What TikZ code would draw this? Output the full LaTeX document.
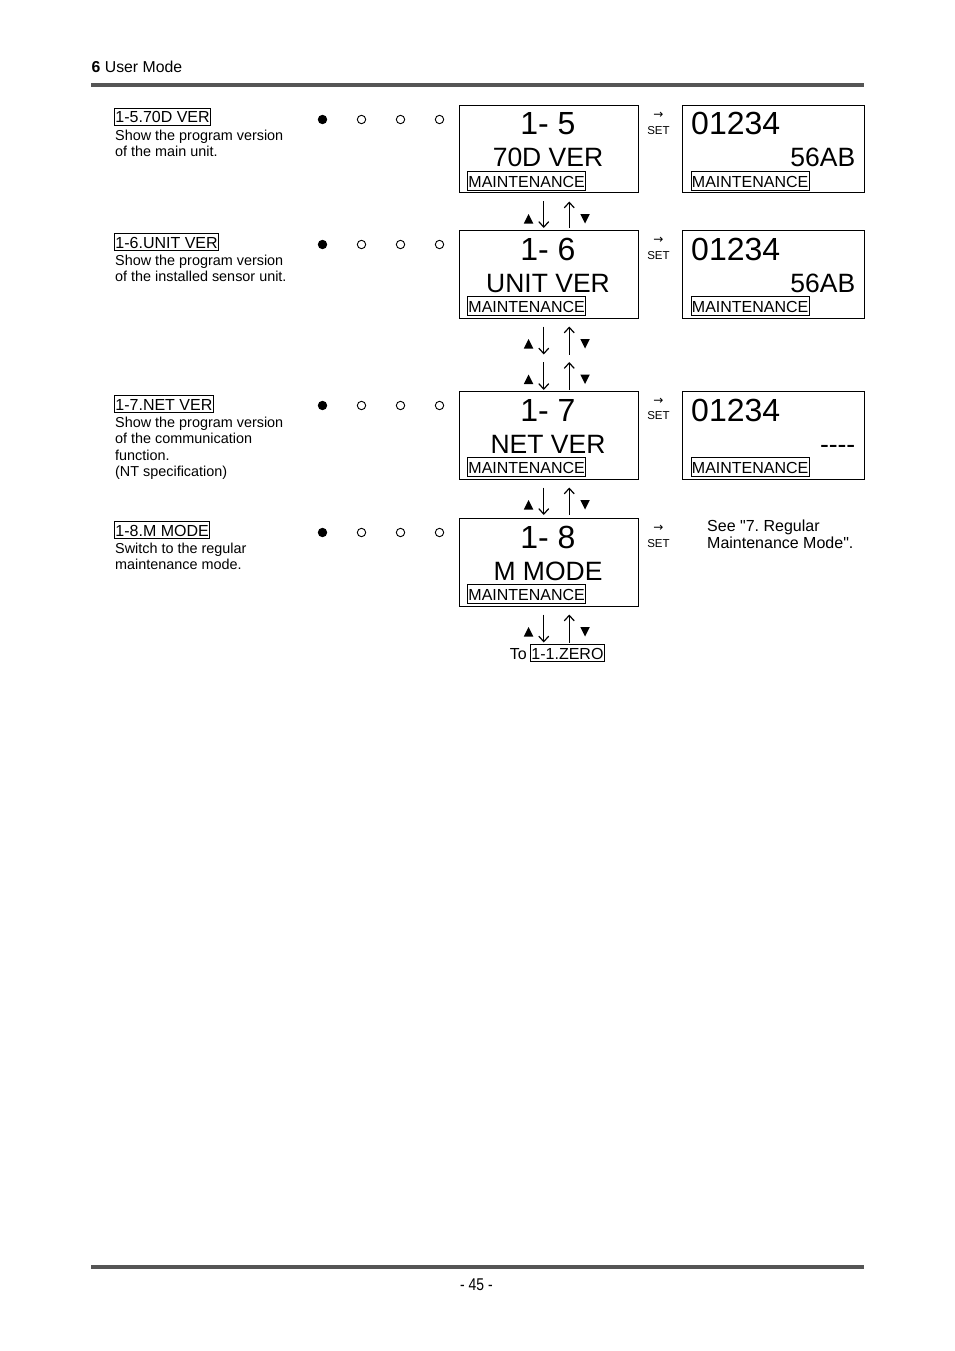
\documentclass[tikz,border=0pt]{standalone}
\usepackage{fontspec}
\setmainfont{Liberation Sans}[Ligatures=TeXOff]
\newfontfamily\symfont{DejaVu Sans}
\newfontfamily\narrowfont[FakeStretch=0.82]{Liberation Sans}
\usetikzlibrary{arrows.meta,calc}
\definecolor{rulegray}{HTML}{555555}
\frenchspacing
\tikzset{
  screen/.style={draw, line width=1pt, inner sep=0pt, anchor=north west, minimum height=87.5pt},
  lbl/.style={draw, line width=0.9pt, font=\fontsize{16}{16}\selectfont, inner xsep=1pt, inner ysep=0pt, text height=14.5pt, text depth=2.5pt, anchor=base west},
  maint/.style={lbl, text height=15.5pt, text depth=3.5pt},
  desc/.style={font=\fontsize{14.4}{16.6}\selectfont, align=left, inner sep=0pt, anchor=north west},
  bignum/.style={font=\fontsize{32}{32}\selectfont, inner sep=0pt, anchor=base},
  subword/.style={font=\fontsize{26.5}{26.5}\selectfont, inner sep=0pt, anchor=base},
  setl/.style={font=\fontsize{11.5}{11.5}\selectfont, inner sep=0pt, anchor=base},
  arr/.style={font=\symfont\fontsize{12}{12}\selectfont, inner sep=0pt},
  flow/.style={line width=1.2pt, -{Straight Barb[length=5.5pt,width=10pt]}},
  plain/.style={font=\fontsize{16}{16.6}\selectfont, inner sep=0pt}
}
\newcommand\arrpair[2]{%
  \draw[flow] ($(#1)+(-5,0)$) -- ($(#2)+(-5,0)$);
  \draw[flow] ($(#2)+(20.5,0)$) -- ($(#1)+(20.5,0)$);
  \fill ($(#1)+(-25,22)$) -- ++(9.5,0) -- ++(-4.75,-9.5) -- cycle;
  \fill ($(#1)+(31.5,12.5)$) -- ++(9.5,0) -- ++(-4.75,9.5) -- cycle;
}
\newcommand\dotrow[1]{%
  \fill (322.5,#1) circle (4.7);
  \draw[line width=0.9pt] (361.5,#1) circle (4.2);
  \draw[line width=0.9pt] (400.5,#1) circle (4.2);
  \draw[line width=0.9pt] (439.5,#1) circle (4.2);
}
\begin{document}
\begin{tikzpicture}[x=1pt,y=-1pt]
\useasboundingbox (0,0) rectangle (954,1351);
\fill[white] (0,0) rectangle (954,1351);

% header / footer
\node[font=\fontsize{15.8}{16}\selectfont, inner sep=0pt, anchor=base west] (head) at (91.5,72.3) {\textbf{6} User Mode};
\draw[line width=4pt, rulegray] (91,85.3) -- (863.5,85.3);
\draw[line width=4pt, rulegray] (91,1267) -- (863.5,1267);
\node[font=\narrowfont\fontsize{17}{17}\selectfont, inner sep=0pt, anchor=base] (page) at (476.5,1290) {- 45 -};

% ---------- row 1-5 ----------
\node[lbl] (l15) at (114,123) {1-5.70D VER};
\node[desc] (d15) at (115,129.5) {Show the program version\\of the main unit.};
\dotrow{119.5}
\node[screen, minimum width=178.5pt] (s15) at (459,105) {};
\node[bignum] (s15a) at (548,135) {1- 5};
\node[subword] (s15b) at (548,167) {70D VER};
\node[maint] (s15m) at (467,187) {MAINTENANCE};
\node[arr] (a15) at (658.5,115.7) {→};
\node[setl] (set15) at (658.5,134.3) {SET};
\node[screen, minimum width=181.5pt] (r15) at (682,105) {};
\node[bignum, anchor=base west] (r15a) at (691,135) {01234};
\node[subword, anchor=base east] (r15b) at (855.5,167) {56AB};
\node[maint] (r15m) at (690.5,187) {MAINTENANCE};

% ---------- row 1-6 ----------
\node[lbl] (l16) at (114,248) {1-6.UNIT VER};
\node[desc] (d16) at (115,254.5) {Show the program version\\of the installed sensor unit.};
\dotrow{244.5}
\node[screen, minimum width=178.5pt] (s16) at (459,230) {};
\node[bignum] (s16a) at (548,260) {1- 6};
\node[subword] (s16b) at (548,292) {UNIT VER};
\node[maint] (s16m) at (467,312) {MAINTENANCE};
\node[arr] (a16) at (658.5,240.7) {→};
\node[setl] (set16) at (658.5,259.3) {SET};
\node[screen, minimum width=181.5pt] (r16) at (682,230) {};
\node[bignum, anchor=base west] (r16a) at (691,260) {01234};
\node[subword, anchor=base east] (r16b) at (855.5,292) {56AB};
\node[maint] (r16m) at (690.5,312) {MAINTENANCE};

% ---------- row 1-7 ----------
\node[lbl] (l17) at (114,410) {1-7.NET VER};
\node[desc] (d17) at (115,416.5) {Show the program version\\of the communication\\function.\\(NT specification)};
\dotrow{405.5}
\node[screen, minimum width=178.5pt] (s17) at (459,391) {};
\node[bignum] (s17a) at (548,421) {1- 7};
\node[subword] (s17b) at (548,453) {NET VER};
\node[maint] (s17m) at (467,473) {MAINTENANCE};
\node[arr] (a17) at (658.5,401) {→};
\node[setl] (set17) at (658.5,419) {SET};
\node[screen, minimum width=181.5pt] (r17) at (682,391) {};
\node[bignum, anchor=base west] (r17a) at (691,421) {01234};
\node[subword, anchor=base east] (r17b) at (855.5,453) {----};
\node[maint] (r17m) at (690.5,473) {MAINTENANCE};

% ---------- row 1-8 ----------
\node[lbl] (l18) at (114,536) {1-8.M MODE};
\node[desc] (d18) at (115,542.5) {Switch to the regular\\maintenance mode.};
\dotrow{532.5}
\node[screen, minimum width=178.5pt] (s18) at (459,518) {};
\node[bignum] (s18a) at (548,548) {1- 8};
\node[subword] (s18b) at (548,580) {M MODE};
\node[maint] (s18m) at (467,600) {MAINTENANCE};
\node[arr] (a18) at (658.5,528.7) {→};
\node[setl] (set18) at (658.5,547.3) {SET};
\node[plain, align=left, anchor=north west] (see) at (707,520) {See "7. Regular\\Maintenance Mode".};

% ---------- to 1-1.ZERO ----------
\node[plain, anchor=base east] (to) at (527,659) {To};
\node[lbl] (zero) at (530,659) {1-1.ZERO};

% ---------- navigation arrows ----------
\coordinate (a1t) at ($(s15.south)+(0,8)$);
\coordinate (a1b) at ($(s16.north)+(0,-2)$);
\coordinate (a2t) at ($(s16.south)+(0,8)$);
\coordinate (a2b) at ($(s16.south)+(0,36)$);
\coordinate (a3t) at ($(s17.north)+(0,-29)$);
\coordinate (a3b) at ($(s17.north)+(0,-1)$);
\coordinate (a4t) at ($(s17.south)+(0,8)$);
\coordinate (a4b) at ($(s18.north)+(0,-3)$);
\coordinate (a5t) at ($(s18.south)+(0,8)$);
\coordinate (a5b) at ($(s18.south)+(0,36)$);
\arrpair{a1t}{a1b}
\arrpair{a2t}{a2b}
\arrpair{a3t}{a3b}
\arrpair{a4t}{a4b}
\arrpair{a5t}{a5b}
\end{tikzpicture}
\end{document}
